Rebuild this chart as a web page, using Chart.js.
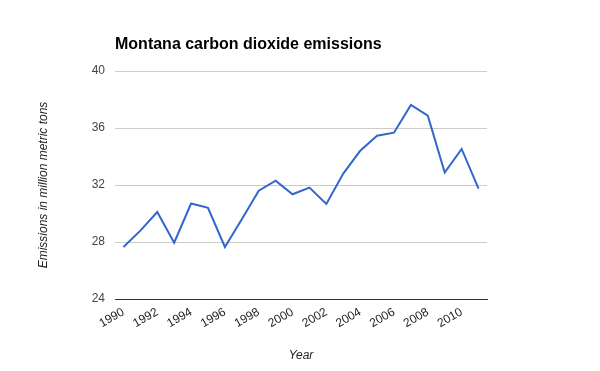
<!DOCTYPE html>
<html>
<head>
<meta charset="utf-8">
<script src="https://cdn.jsdelivr.net/npm/chart.js@4"></script>
<style>
  html, body { margin: 0; padding: 0; background: #fff; }
  #wrap { width: 600px; height: 371px; position: relative; }
</style>
</head>
<body>
<div id="wrap"><canvas id="myChart"></canvas></div>
<script>
// data
const years = ['1990','1991','1992','1993','1994','1995','1996','1997','1998','1999','2000',
               '2001','2002','2003','2004','2005','2006','2007','2008','2009','2010','2011'];
const emissions = [27.65, 28.8, 30.1, 27.95, 30.7, 30.4, 27.65, 29.6, 31.6, 32.3, 31.35,
                   31.82, 30.67, 32.8, 34.4, 35.46, 35.67, 37.62, 36.86, 32.88, 34.53, 31.74];
const yTicks = [24, 28, 32, 36, 40];

const chartTitle = 'Montana carbon dioxide emissions';

// title drawn by hand so it lines up with the plot's left edge
const titlePlugin = {
  id: 'leftTitle',
  afterDraw(chart) {
    const ctx = chart.ctx;
    ctx.save();
    ctx.font = 'bold 16px "Liberation Sans", Arial, sans-serif';
    ctx.fillStyle = '#000';
    ctx.textBaseline = 'middle';
    ctx.fillText(chartTitle, chart.chartArea.left, 45);
    ctx.restore();
  }
};

const ctx = document.getElementById('myChart');

new Chart(ctx, {
  type: 'line',
  data: {
    labels: years,
    datasets: [{
      label: 'Emissions',
      data: emissions,
      borderColor: '#3366cc',
      borderWidth: 2,
      pointRadius: 0,
      tension: 0,
      fill: false
    }]
  },
  options: {
    responsive: true,
    maintainAspectRatio: false,
    animation: false,
    layout: { padding: { left: 32, right: 113, top: 71, bottom: 8 } },
    plugins: {
      legend: { display: false },
      tooltip: { enabled: false }
    },
    scales: {
      x: {
        type: 'category',
        offset: true,
        afterFit(scale) { scale.height = 64; },
        grid: { display: false, drawTicks: false },
        border: { display: true, color: '#333', width: 1 },
        ticks: {
          autoSkip: false,
          maxRotation: 30,
          minRotation: 30,
          padding: 6,
          color: '#222',
          font: { family: '"Liberation Sans", Arial, sans-serif', size: 12 },
          callback(val, i) { return i % 2 === 0 ? years[i] : ''; }
        },
        title: {
          display: true,
          text: 'Year',
          color: '#222',
          padding: { top: 0, bottom: 0 },
          font: { family: '"Liberation Sans", Arial, sans-serif', size: 12, style: 'italic' }
        }
      },
      y: {
        min: 24,
        max: 40,
        afterFit(scale) { scale.width = 83; },
        afterBuildTicks(scale) { scale.ticks = yTicks.map(v => ({ value: v })); },
        grid: { color: '#cccccc', drawTicks: false },
        border: { display: false },
        ticks: {
          padding: 10,
          color: '#444',
          font: { family: '"Liberation Sans", Arial, sans-serif', size: 12 }
        },
        title: {
          display: true,
          text: 'Emissions in million metric tons',
          color: '#222',
          padding: { top: 4, bottom: 0 },
          font: { family: '"Liberation Sans", Arial, sans-serif', size: 12, style: 'italic' }
        }
      }
    }
  },
  plugins: [titlePlugin]
});
</script>
</body>
</html>
